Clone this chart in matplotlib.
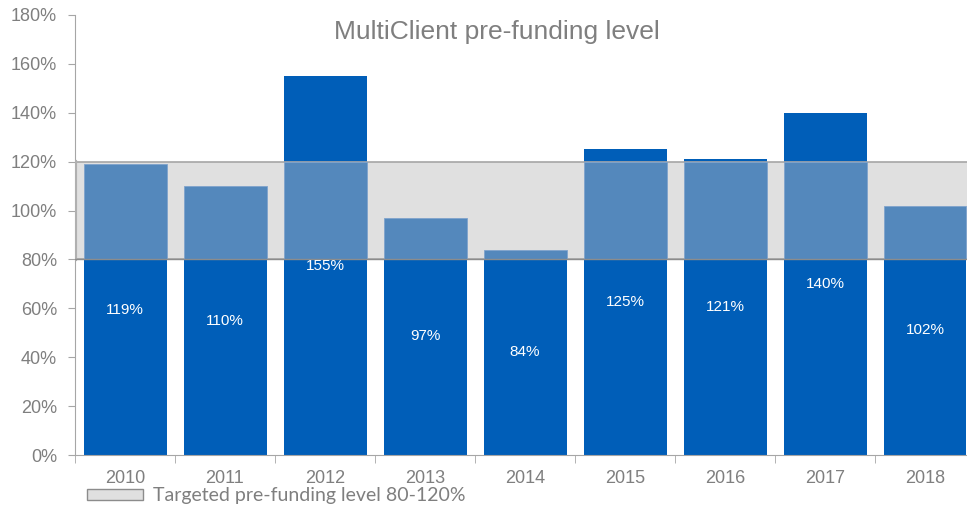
import numpy as np
import matplotlib.pyplot as plt
from matplotlib.patches import Patch

years = ['2010', '2011', '2012', '2013', '2014', '2015', '2016', '2017', '2018']
level = [119, 110, 155, 97, 84, 125, 121, 140, 102]
band_lo, band_hi = 80, 120

blue = '#005EB8'
blue_in_band = '#5488BC'
grey_txt = '#7F7F7F'

plt.rcParams['font.family'] = ['Liberation Sans', 'DejaVu Sans']

fig = plt.figure(figsize=(9.67, 5.08), dpi=100)
ax = fig.add_axes([75/967, 53/508, 900/967, 440/508])

x = np.arange(len(years))
vals = np.array(level)

ax.bar(x, vals, width=0.83, color=blue, zorder=2)
ax.axhspan(band_lo, band_hi, facecolor='#E0E0E0', edgecolor='#A6A6A6', lw=1.2, zorder=3)
ax.axvline(-0.5, ymin=band_lo/180, ymax=band_hi/180, color='#B0B0B0', lw=3, zorder=3)
inner = np.clip(vals, band_lo, band_hi) - band_lo
ax.bar(x, inner, bottom=band_lo, width=0.83, color=blue_in_band,
       edgecolor='#7FA3CC', lw=0.6, zorder=4)
ax.axhline(band_lo, color='#8C8C8C', lw=1.0, zorder=5)

for xi, v in zip(x, vals):
    ax.text(xi, v / 2, f'{v}%', color='white', fontsize=11, ha='center', va='center', zorder=6)

ax.set_xlim(-0.5, len(years) - 0.5)
ax.set_ylim(0, 180)
ax.set_yticks(np.arange(0, 181, 20))
ax.set_yticklabels([f'{t}%' for t in range(0, 181, 20)])
ax.set_xticks(x)
ax.set_xticklabels(years)
ax.set_xticks(np.arange(-0.5, len(years), 1), minor=True)
ax.tick_params(axis='x', which='major', length=0, labelsize=13, colors=grey_txt, pad=11)
ax.tick_params(axis='x', which='minor', length=6, color='#A6A6A6', direction='out')
ax.tick_params(axis='y', length=5, color='#A6A6A6', labelsize=13, labelcolor=grey_txt, pad=8)

for s in ['top', 'right']:
    ax.spines[s].set_visible(False)
for s in ['left', 'bottom']:
    ax.spines[s].set_color('#A6A6A6')

fig.text(497/967, 1 - 32/508, 'MultiClient pre-funding level',
         ha='center', va='center', fontsize=19, color=grey_txt)

leg = fig.legend(handles=[Patch(facecolor='#E0E0E0', edgecolor='#8C8C8C', lw=1)],
                 labels=['Targeted pre-funding level 80-120%'],
                 loc='center left', bbox_to_anchor=(87/967, 1 - 496/508), frameon=False,
                 handlelength=2.9, handleheight=0.5, handletextpad=0.5,
                 borderpad=0, borderaxespad=0,
                 prop={'family': ['Lato', 'DejaVu Sans'], 'size': 14})
for t in leg.get_texts():
    t.set_color(grey_txt)

fig.savefig('out.png', dpi=100)
